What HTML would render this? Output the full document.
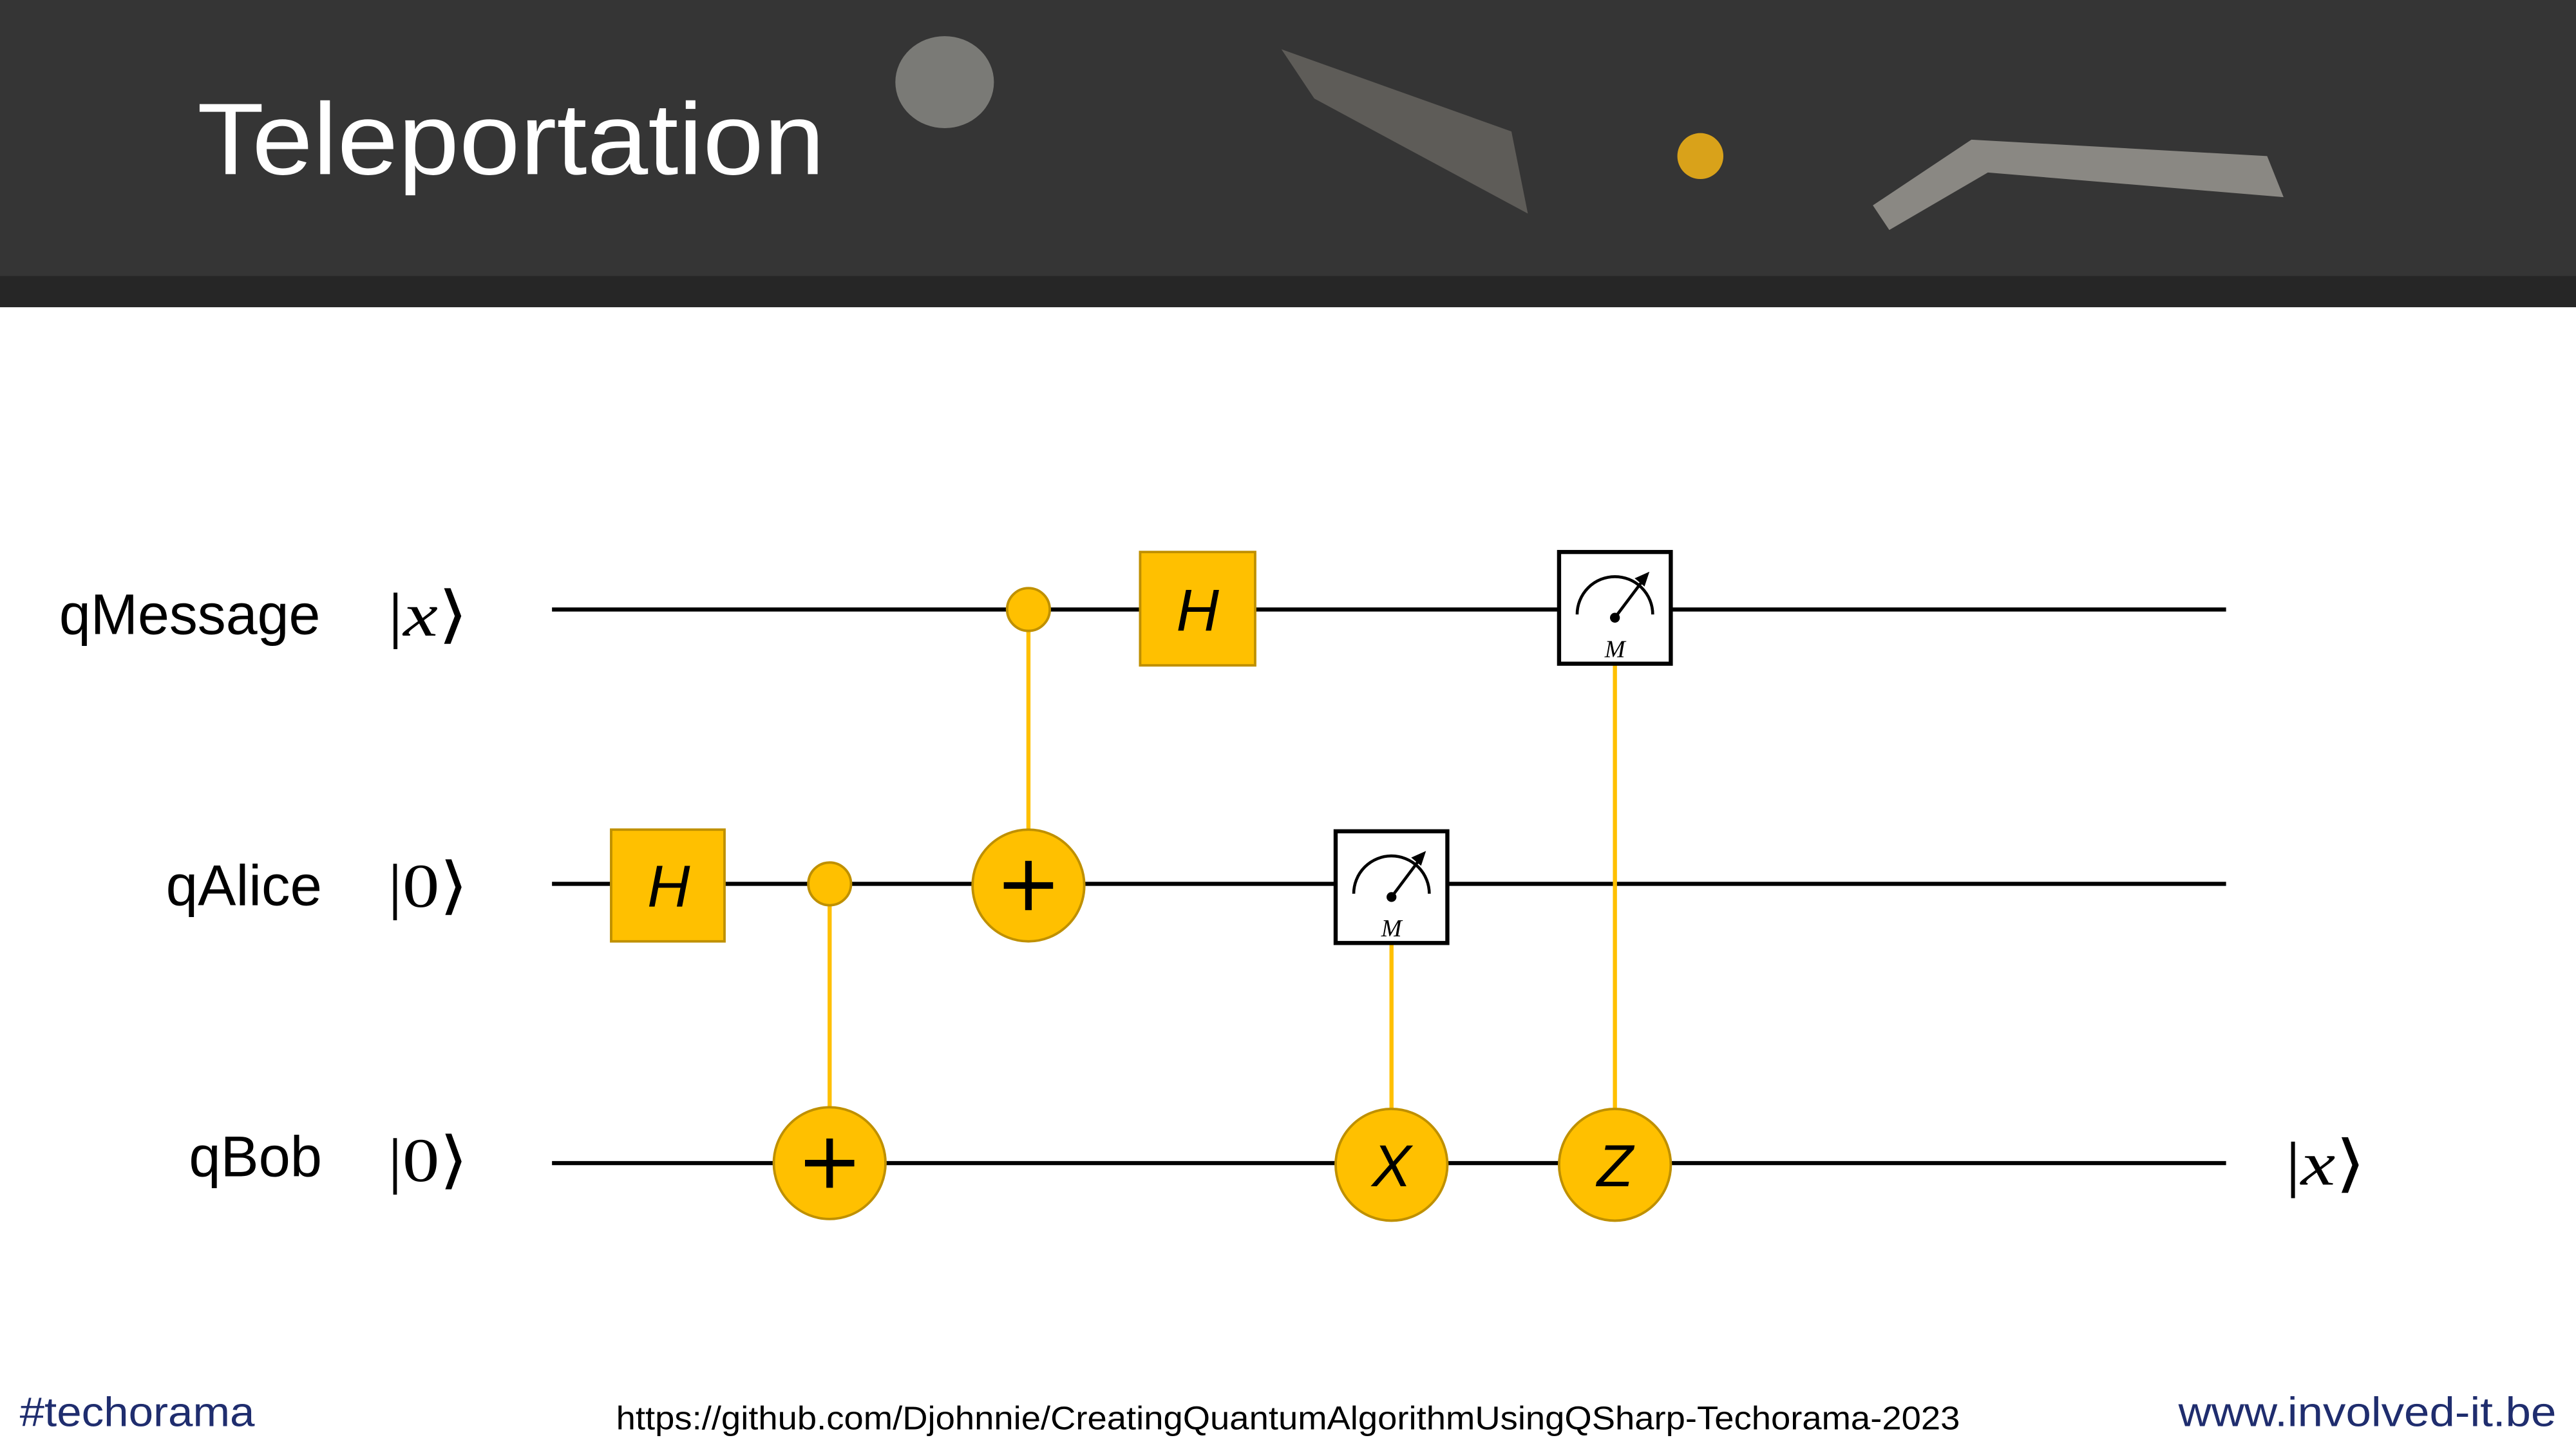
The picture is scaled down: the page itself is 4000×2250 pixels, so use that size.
<!DOCTYPE html>
<html><head><meta charset="utf-8"><style>
html,body{margin:0;padding:0;background:#fff;}
svg{display:block;}
</style></head><body>
<svg width="4000" height="2250" viewBox="0 0 1568 882" xmlns="http://www.w3.org/2000/svg">
<defs>
<g id="meter">
<rect x="0" y="0" width="68" height="68" fill="#fff" stroke="#000" stroke-width="2.5"/>
<path d="M11,38 A23,23 0 0 1 57,38" fill="none" stroke="#000" stroke-width="1.8"/>
<line x1="34" y1="40" x2="52" y2="16" stroke="#000" stroke-width="1.8"/>
<polygon points="55,12 46,16 52,21" fill="#000"/>
<circle cx="34" cy="40" r="3" fill="#000"/>
<text x="34" y="64" font-family="Liberation Serif, serif" font-style="italic" font-size="15" text-anchor="middle">M</text>
</g>
</defs>
<rect x="0" y="0" width="1568" height="187" fill="#353535"/>
<rect x="0" y="168" width="1568" height="19" fill="#262626"/>
<ellipse cx="575" cy="50" rx="30" ry="28" fill="#7a7a76"/>
<ellipse cx="1035" cy="95" rx="14" ry="14" fill="#d9a21a"/>
<path d="M1140,125 L1200,85 L1380,95 L1390,120 L1210,105 L1150,140 Z" fill="#8a8883"/>
<path d="M780,30 L920,80 L930,130 L800,60 Z" fill="#5e5c58"/>
<text x="120" y="106" font-family="Liberation Sans, sans-serif" font-size="62" fill="#fff" textLength="382" lengthAdjust="spacingAndGlyphs">Teleportation</text>

<g stroke="#000" stroke-width="2.5">
<line x1="336" y1="371" x2="1355" y2="371"/>
<line x1="336" y1="538" x2="1355" y2="538"/>
<line x1="336" y1="708" x2="1355" y2="708"/>
</g>
<g stroke="#FFC000" stroke-width="2.5">
<line x1="505" y1="538" x2="505" y2="690"/>
<line x1="626" y1="371" x2="626" y2="520"/>
<line x1="847" y1="574" x2="847" y2="690"/>
<line x1="983" y1="404" x2="983" y2="690"/>
</g>
<g fill="#FFC000" stroke="#BF9000" stroke-width="1.5">
<rect x="372" y="505" width="69" height="68"/>
<rect x="694" y="336" width="70" height="69"/>
<circle cx="505" cy="538" r="13"/>
<circle cx="626" cy="371" r="13"/>
<circle cx="505" cy="708" r="34"/>
<circle cx="626" cy="539" r="34"/>
<circle cx="847" cy="709" r="34"/>
<circle cx="983" cy="709" r="34"/>
</g>
<g stroke="#000" stroke-width="4">
<line x1="490" y1="708" x2="520" y2="708"/><line x1="505" y1="693" x2="505" y2="723"/>
<line x1="611" y1="539" x2="641" y2="539"/><line x1="626" y1="524" x2="626" y2="554"/>
</g>
<g font-family="Liberation Sans, sans-serif" font-style="italic" font-size="36" text-anchor="middle" fill="#000">
<text x="407" y="552">H</text>
<text x="729" y="384">H</text>
<text x="847" y="722">X</text>
<text x="983" y="722">Z</text>
</g>
<use href="#meter" x="813" y="506"/>
<use href="#meter" x="949" y="336"/>

<g font-family="Liberation Sans, sans-serif" font-size="35" fill="#000">
<text x="36" y="386" textLength="159" lengthAdjust="spacingAndGlyphs">qMessage</text>
<text x="101" y="551" textLength="95" lengthAdjust="spacingAndGlyphs">qAlice</text>
<text x="115" y="716" textLength="81" lengthAdjust="spacingAndGlyphs">qBob</text>
</g>
<g font-family="Liberation Serif, serif" font-size="38" fill="#000">
<text x="236" y="387" textLength="49" lengthAdjust="spacingAndGlyphs">|<tspan font-style="italic">x</tspan>⟩</text>
<text x="236" y="552" textLength="49" lengthAdjust="spacingAndGlyphs">|0⟩</text>
<text x="236" y="719" textLength="49" lengthAdjust="spacingAndGlyphs">|0⟩</text>
<text x="1391" y="721" textLength="49" lengthAdjust="spacingAndGlyphs">|<tspan font-style="italic">x</tspan>⟩</text>
</g>

<text x="12" y="868" font-family="Liberation Sans, sans-serif" font-size="25" fill="#1F2D6E" textLength="143" lengthAdjust="spacingAndGlyphs">#techorama</text>
<text x="375" y="870" font-family="Liberation Sans, sans-serif" font-size="20" fill="#000" textLength="818" lengthAdjust="spacingAndGlyphs">https://github.com/Djohnnie/CreatingQuantumAlgorithmUsingQSharp-Techorama-2023</text>
<text x="1326" y="868" font-family="Liberation Sans, sans-serif" font-size="25" fill="#1F2D6E" textLength="230" lengthAdjust="spacingAndGlyphs">www.involved-it.be</text>
</svg>
</body></html>
